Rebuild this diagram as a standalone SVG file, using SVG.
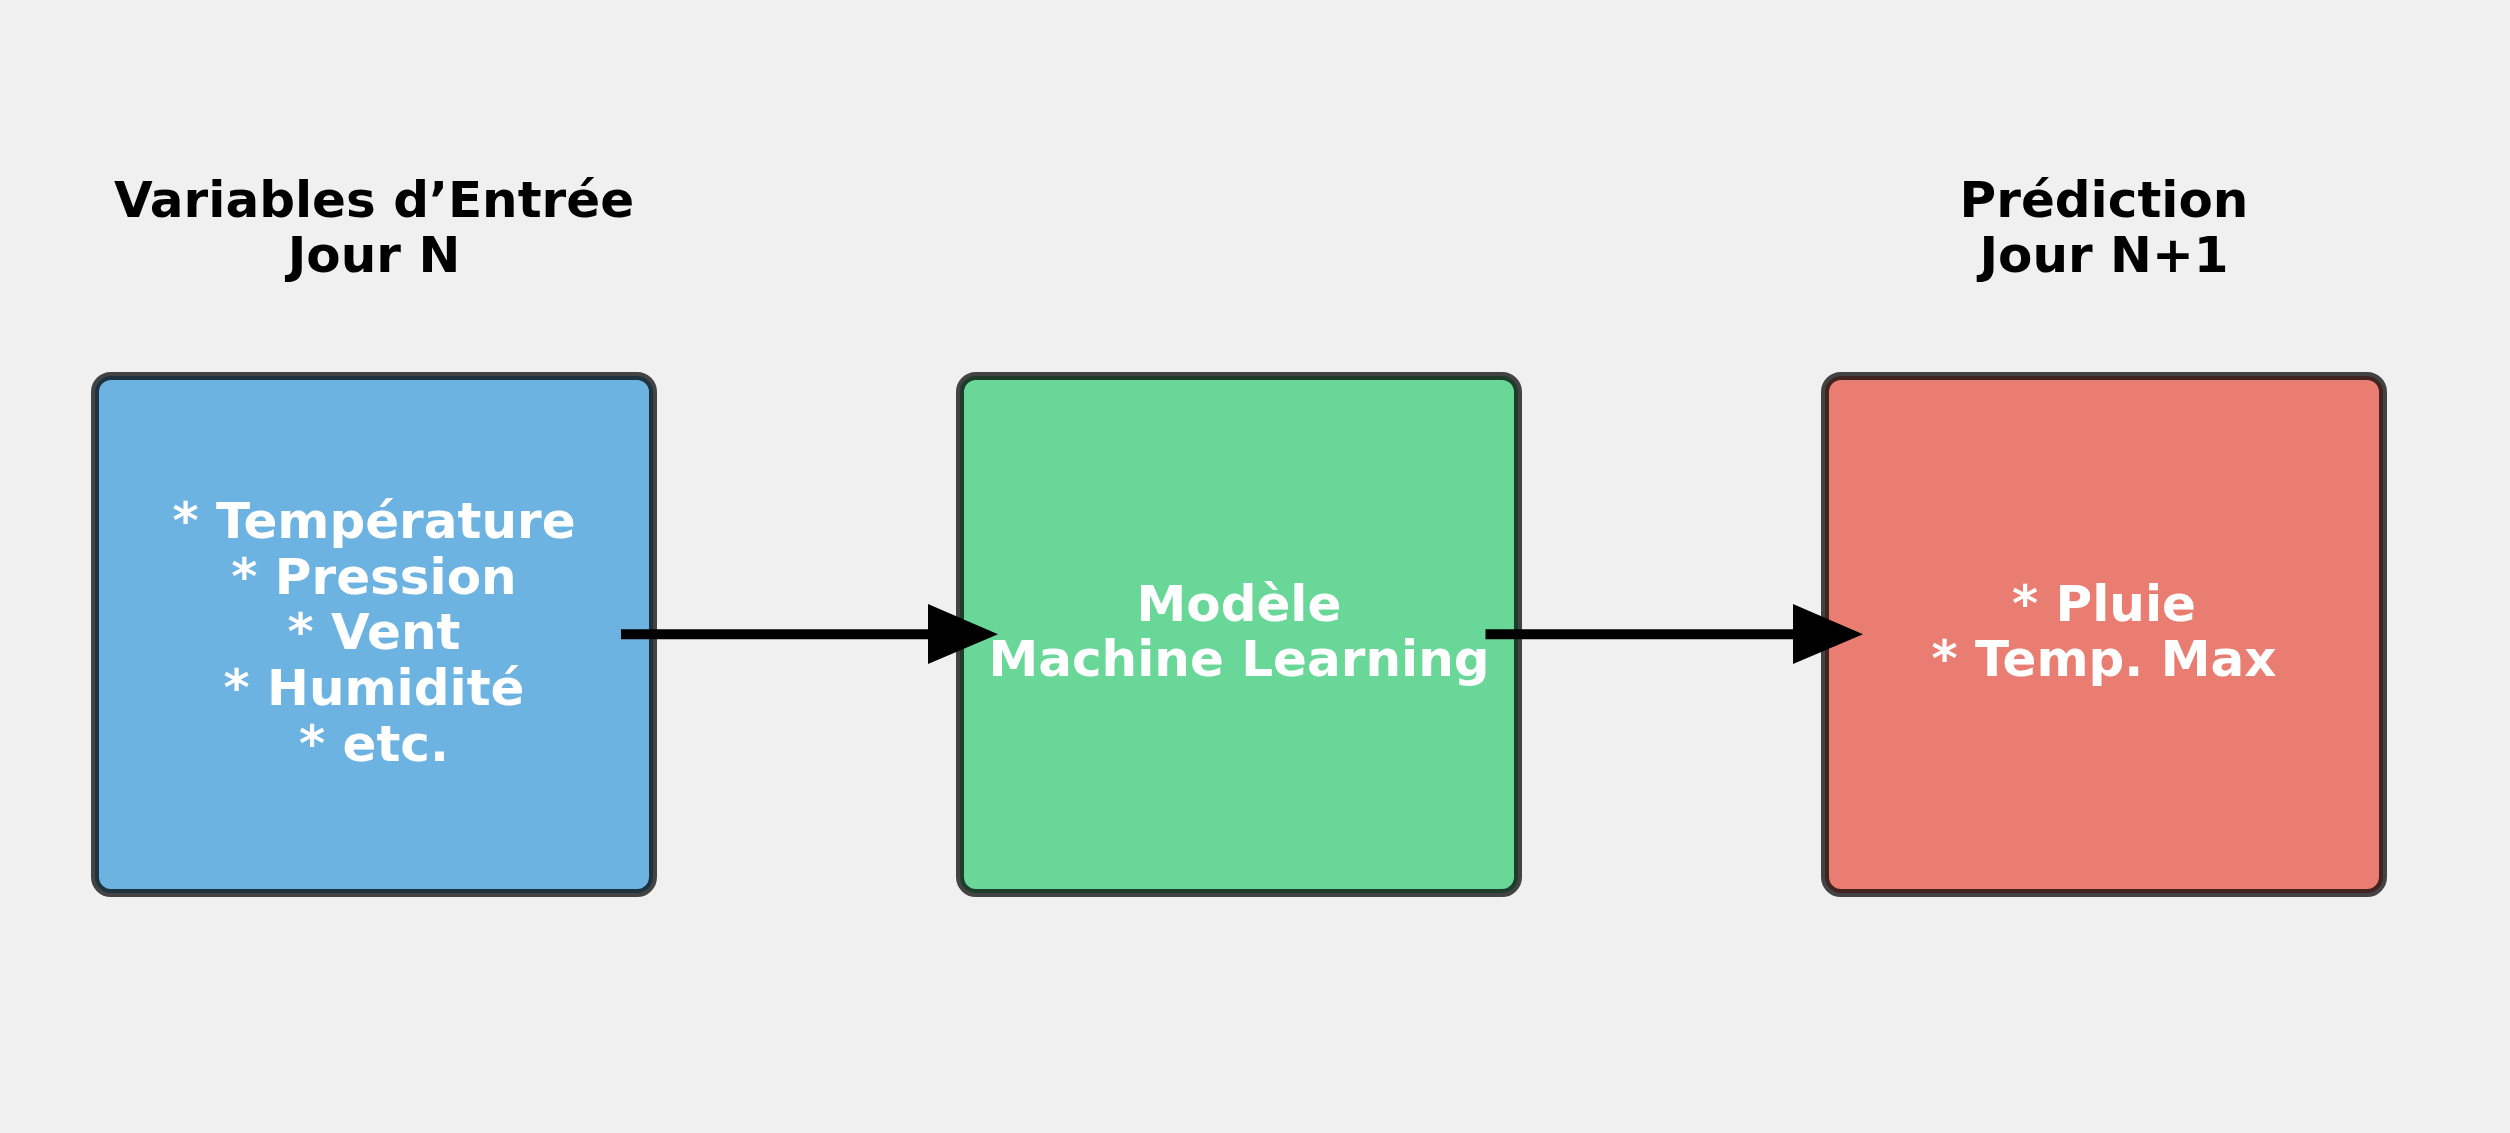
<svg xmlns="http://www.w3.org/2000/svg" width="2510" height="1133" viewBox="0 0 2510 1133">
  <style>
    .box { stroke: #000; stroke-opacity: 0.72; stroke-width: 8; fill-opacity: 0.7; }
    .title { font-family: "DejaVu Sans", "Liberation Sans", sans-serif; font-weight: bold; font-size: 50px; fill: #000; text-anchor: middle; }
    .label { font-family: "DejaVu Sans", "Liberation Sans", sans-serif; font-weight: bold; font-size: 50px; fill: #fff; text-anchor: middle; }
    .conn { stroke: #000; stroke-width: 10; fill: none; }
    .head { fill: #000; }
  </style>
  <rect x="0" y="0" width="2510" height="1133" fill="#f0f0f0"/>

  <g id="title-input">
    <text class="title" x="374" y="217">Variables d’Entrée</text>
    <text class="title" x="374" y="272">Jour N</text>
  </g>
  <g id="title-output">
    <text class="title" x="2104" y="217">Prédiction</text>
    <text class="title" x="2104" y="272">Jour N+1</text>
  </g>

  <g id="node-input">
    <rect class="box" x="95" y="376" width="558" height="517" rx="16" ry="16" fill="#3498db"/>
    <text class="label" x="374" y="538">* Température</text>
    <text class="label" x="374" y="594">* Pression</text>
    <text class="label" x="374" y="649">* Vent</text>
    <text class="label" x="374" y="705">* Humidité</text>
    <text class="label" x="374" y="761">* etc.</text>
  </g>

  <g id="node-model">
    <rect class="box" x="960" y="376" width="558" height="517" rx="16" ry="16" fill="#2ecc71"/>
    <text class="label" x="1239" y="621">Modèle</text>
    <text class="label" x="1239" y="676">Machine Learning</text>
  </g>

  <g id="node-output">
    <rect class="box" x="1825" y="376" width="558" height="517" rx="16" ry="16" fill="#e74c3c"/>
    <text class="label" x="2104" y="621">* Pluie</text>
    <text class="label" x="2104" y="676">* Temp. Max</text>
  </g>

  <g id="connectors">
    <line class="conn" x1="621" y1="634.3" x2="930" y2="634.3"/>
    <polygon class="head" points="928,604 998,634.3 928,664"/>
    <line class="conn" x1="1485.5" y1="634.3" x2="1795" y2="634.3"/>
    <polygon class="head" points="1793,604 1863,634.3 1793,664"/>
  </g>
</svg>
